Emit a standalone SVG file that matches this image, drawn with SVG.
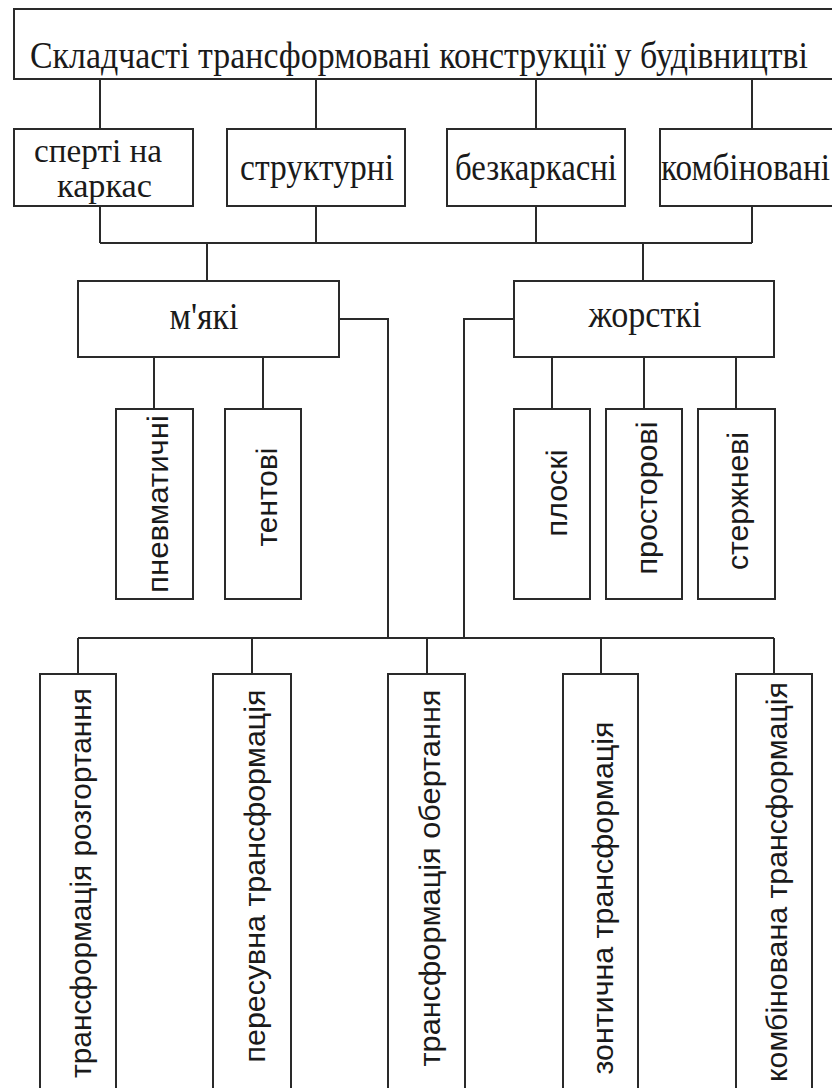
<svg xmlns="http://www.w3.org/2000/svg" width="832" height="1088" viewBox="0 0 832 1088">
<style>
.box{fill:#fff;stroke:#2a2a2a;stroke-width:2}
.ln{fill:none;stroke:#2a2a2a;stroke-width:2}
.serif{font-family:"Liberation Serif","Times New Roman",serif;font-size:38px;fill:#1a1a1a}
.two{font-size:34px}
.sans{font-family:"Liberation Sans",Arial,sans-serif;font-size:30px;fill:#1a1a1a}
</style>
<rect width="832" height="1088" fill="#fff"/>
<g id="connectors">
<path class="ln" d="M100 79V129M316 79V129M536 79V129M752 79V129"/>
<path class="ln" d="M100 206V243M316 206V243M536 206V243M752 206V243M100 243H752"/>
<path class="ln" d="M207 243V281M643 243V281"/>
<path class="ln" d="M154 357V409M263 357V409M552 357V409M644 357V409M736 357V409"/>
<path class="ln" d="M339 319H388V638M514 319H464V638"/>
<path class="ln" d="M78 638H774M78 638V674M252 638V674M427 638V674M601 638V674M774 638V674"/>
</g>
<g id="n-root"><rect class="box" x="14" y="9" width="822" height="70"/><text class="serif" x="30" y="68" textLength="778" lengthAdjust="spacingAndGlyphs">Складчасті трансформовані конструкції у будівництві</text></g>
<g id="n-sperti"><rect class="box" x="14" y="129" width="179" height="77"/><text class="serif two" x="98" y="162" text-anchor="middle" textLength="128" lengthAdjust="spacingAndGlyphs">сперті на</text><text class="serif two" x="104.5" y="197" text-anchor="middle" textLength="95" lengthAdjust="spacingAndGlyphs">каркас</text></g>
<g id="n-struct"><rect class="box" x="227" y="129" width="178" height="77"/><text class="serif" x="317" y="180" text-anchor="middle" textLength="154" lengthAdjust="spacingAndGlyphs">структурні</text></g>
<g id="n-bezk"><rect class="box" x="447" y="129" width="178" height="77"/><text class="serif" x="536" y="180" text-anchor="middle" textLength="162" lengthAdjust="spacingAndGlyphs">безкаркасні</text></g>
<g id="n-komb"><rect class="box" x="660" y="129" width="176" height="77"/><text class="serif" x="661" y="180" textLength="169" lengthAdjust="spacingAndGlyphs">комбіновані</text></g>
<g id="n-myaki"><rect class="box" x="78" y="281" width="261" height="76"/><text class="serif" x="204" y="329" text-anchor="middle" textLength="69" lengthAdjust="spacingAndGlyphs">м'які</text></g>
<g id="n-zhorst"><rect class="box" x="514" y="281" width="260" height="76"/><text class="serif" x="645" y="327" text-anchor="middle" textLength="113" lengthAdjust="spacingAndGlyphs">жорсткі</text></g>
<g id="n-pnevm"><rect class="box" x="116" y="409" width="77" height="190"/><text class="sans" transform="translate(168 504) rotate(-90)" text-anchor="middle" textLength="178" lengthAdjust="spacingAndGlyphs">пневматичні</text></g>
<g id="n-tent"><rect class="box" x="225" y="409" width="76" height="190"/><text class="sans" transform="translate(277 497) rotate(-90)" text-anchor="middle" textLength="99" lengthAdjust="spacingAndGlyphs">тентові</text></g>
<g id="n-plos"><rect class="box" x="514" y="409" width="76" height="190"/><text class="sans" transform="translate(567 493) rotate(-90)" text-anchor="middle" textLength="87" lengthAdjust="spacingAndGlyphs">плоскі</text></g>
<g id="n-prost"><rect class="box" x="606" y="409" width="76" height="190"/><text class="sans" transform="translate(657 498) rotate(-90)" text-anchor="middle" textLength="153" lengthAdjust="spacingAndGlyphs">просторові</text></g>
<g id="n-sterzh"><rect class="box" x="698" y="409" width="77" height="190"/><text class="sans" transform="translate(748 501) rotate(-90)" text-anchor="middle" textLength="138" lengthAdjust="spacingAndGlyphs">стержневі</text></g>
<g id="n-rozg"><rect class="box" x="40" y="674" width="76" height="430"/><text class="sans" transform="translate(91 883) rotate(-90)" text-anchor="middle" textLength="390" lengthAdjust="spacingAndGlyphs">трансформація розгортання</text></g>
<g id="n-peres"><rect class="box" x="213" y="674" width="78" height="430"/><text class="sans" transform="translate(265 876) rotate(-90)" text-anchor="middle" textLength="373" lengthAdjust="spacingAndGlyphs">пересувна трансформація</text></g>
<g id="n-obert"><rect class="box" x="388" y="674" width="77" height="430"/><text class="sans" transform="translate(440 878) rotate(-90)" text-anchor="middle" textLength="377" lengthAdjust="spacingAndGlyphs">трансформація обертання</text></g>
<g id="n-zont"><rect class="box" x="563" y="674" width="75" height="430"/><text class="sans" transform="translate(613 898) rotate(-90)" text-anchor="middle" textLength="353" lengthAdjust="spacingAndGlyphs">зонтична трансформація</text></g>
<g id="n-kombt"><rect class="box" x="736" y="674" width="76" height="430"/><text class="sans" transform="translate(787 882) rotate(-90)" text-anchor="middle" textLength="400" lengthAdjust="spacingAndGlyphs">комбінована трансформація</text></g>
</svg>
